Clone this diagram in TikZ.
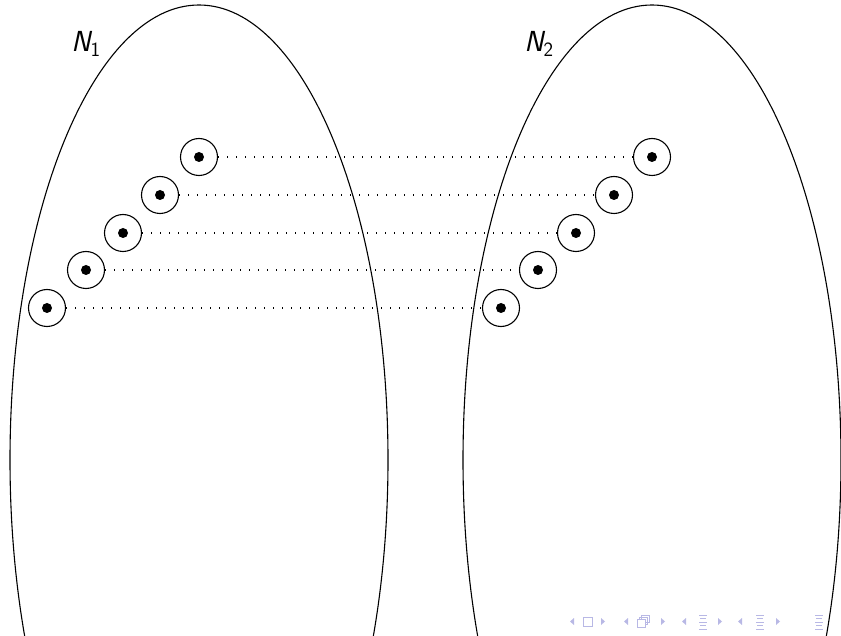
\documentclass[tikz,border=0pt]{standalone}
\usetikzlibrary{calc}
\definecolor{navc}{rgb}{0.72,0.72,0.9}
\begin{document}
\begin{tikzpicture}[x=1pt,y=-1pt,
  ring/.style={circle,draw,line width=1.1pt,minimum size=37pt,inner sep=0pt},
  dotc/.style={circle,fill=black,minimum size=10pt,inner sep=0pt},
  link/.style={line width=1.1pt,dash pattern=on 1.1pt off 7.9pt},
  lab/.style={font=\fontsize{29}{31}\selectfont\sffamily\itshape,inner sep=0pt},
  nav/.style={fill=navc,draw=none},
  navl/.style={draw=navc,line width=1pt}]
\useasboundingbox (0,0) rectangle (841,636);
\begin{scope}
\clip (0,0) rectangle (841,636);
\draw[line width=1.1pt] (199,460) ellipse [x radius=189, y radius=455];
\draw[line width=1.1pt] (652,460) ellipse [x radius=189, y radius=455];
\end{scope}
\node[lab] (n1) at (86,44) {N\textsubscript{\upshape 1}};
\node[lab] (n2) at (539,44) {N\textsubscript{\upshape 2}};
% left points
\foreach \i/\x/\y in {1/199/157,2/160/195,3/123/233,4/86/270,5/47/308}{
  \node[ring] (a\i) at (\x,\y) {};
  \node[dotc] (ad\i) at (\x,\y) {};
}
\foreach \i/\x/\y in {1/652/157,2/614/195,3/576/233,4/538/270,5/501/308}{
  \node[ring] (b\i) at (\x,\y) {};
  \node[dotc] (bd\i) at (\x,\y) {};
}
\foreach \i in {1,...,5}{
  \draw[link] (a\i.east) -- (b\i.west);
}
% navigation symbols
\foreach \x in {572,626,684,740}{
  \fill[nav] (\x+2,618) -- (\x-2,621.5) -- (\x+2,625) -- cycle;
}
\foreach \x in {603,663,720,778}{
  \fill[nav] (\x-2,618) -- (\x+2,621.5) -- (\x-2,625) -- cycle;
}
\draw[navl] (583,617) rectangle (592,626);
\draw[navl] (641,615) rectangle (649,622);
\draw[navl] (639,617) rectangle (647,624);
\fill[white] (638,619) rectangle (645,626);
\draw[navl] (637,619) rectangle (645,627);
\foreach \x in {703,760,819}{
  \draw[navl] (\x-4,615) -- (\x+4,615);
  \draw[navl] (\x-3,618.5) -- (\x+3,618.5);
  \draw[navl] (\x-4,622) -- (\x+4,622);
  \draw[navl] (\x-3,625.5) -- (\x+3,625.5);
  \draw[navl] (\x-4,629) -- (\x+4,629);
}
\end{tikzpicture}
\end{document}
